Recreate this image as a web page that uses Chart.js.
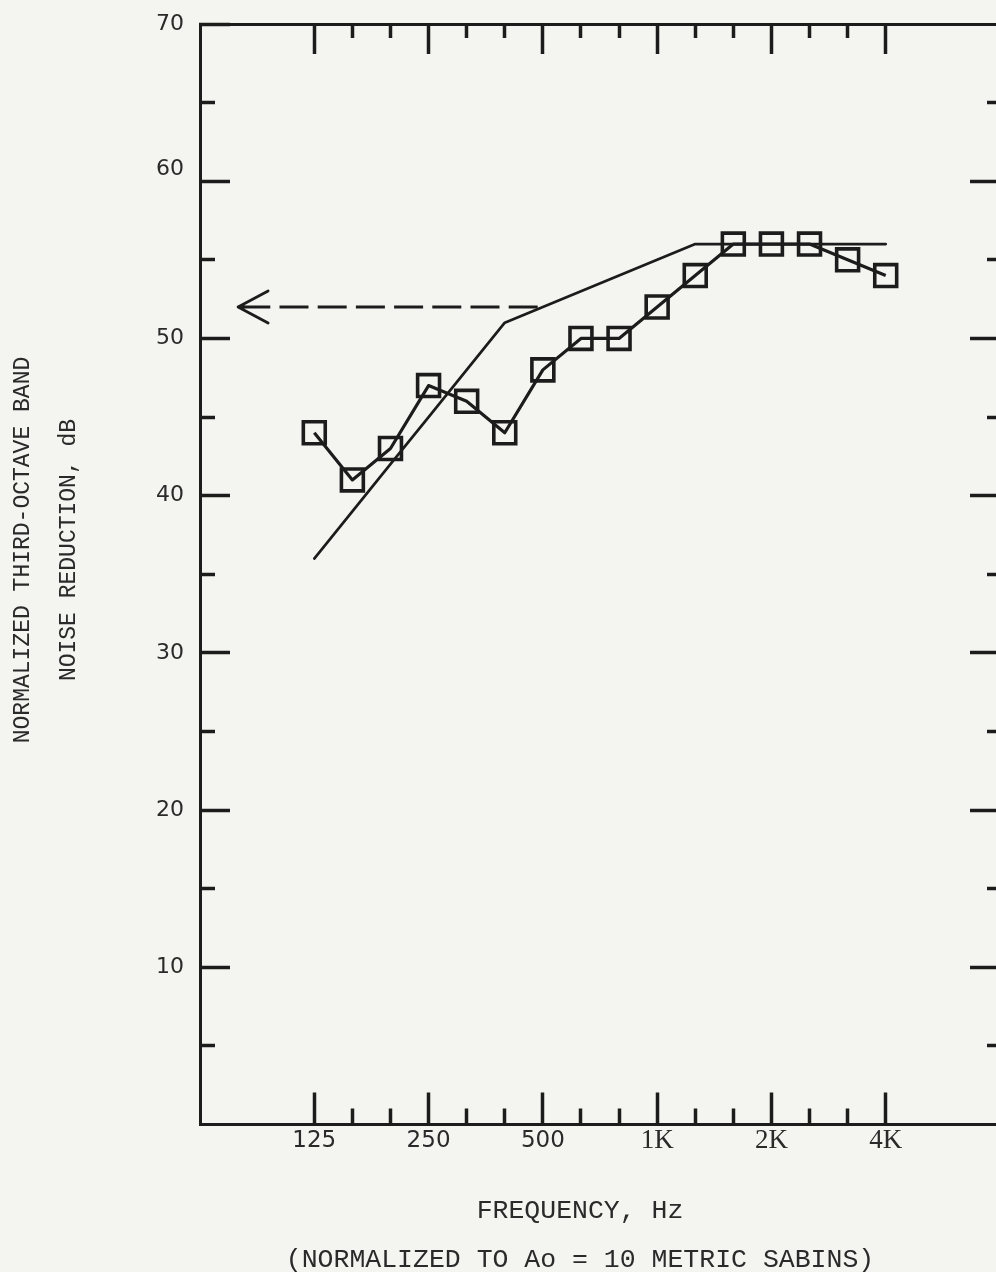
<!DOCTYPE html>
<html>
<head>
<meta charset="utf-8">
<title>Normalized third-octave band noise reduction</title>
<script src="https://cdn.jsdelivr.net/npm/chart.js@4/dist/chart.umd.min.js"></script>
<style>
  html, body { margin: 0; padding: 0; width: 996px; height: 1272px; overflow: hidden; background: #f4f4f0; }
  #wrap { position: relative; width: 996px; height: 1272px; overflow: hidden; }
  /* the canvas is a little larger than the page so the frame's right edge and
     the centred titles fall where the printed figure has them */
  #chart { position: absolute; left: 0; top: -184px; }
</style>
</head>
<body>
<div id="wrap"><canvas id="chart" width="1160" height="1468"></canvas></div>
<script>
// Third-octave band centre frequencies (x position = band number)
const bandLabels = ['125', '160', '200', '250', '315', '400', '500', '630', '800',
                    '1K', '1.25K', '1.6K', '2K', '2.5K', '3.15K', '4K'];
// Octave labels printed under every third band
const octaveLabels = ['125', '250', '500', '1K', '2K', '4K'];
// Measured normalized noise reduction, dB
const measuredNR = [44, 41, 43, 47, 46, 44, 48, 50, 50, 52, 54, 56, 56, 56, 55, 54];
// Fitted reference contour, dB
const contourNR = [36, 39, 42, 45, 48, 51, 52, 53, 54, 55, 56, 56, 56, 56, 56, 56];
// Rating read at 500 Hz and carried to the left by the arrow
const ratingValue = 52;
const ratingBand = bandLabels.indexOf('500');
const arrowTipBand = -2;               // arrow point sits at the 80 Hz band
// Frequency axis extent in band numbers (63 Hz .. 8 kHz)
const bandMin = -3, bandMax = 18;
// dB axis ticks and labels
const dbTicks = [5, 10, 15, 20, 25, 30, 35, 40, 45, 50, 55, 60, 65, 70];
const dbLabels = ['10', '20', '30', '40', '50', '60', '70'];

const INK = '#1c1c1c';
const TEXT = '#2a2a2a';
const MONO = '"Liberation Mono", "DejaVu Sans Mono", monospace';

const bandIdx = bandLabels.map((_, i) => i);
const isOctave = v => v % 3 === 0;
const isDecade = v => v % 10 === 0;

// open "<" head at the start of the rating arrow
const arrowHead = {
  id: 'arrowHead',
  afterDatasetsDraw(chart) {
    const tip = chart.getDatasetMeta(2).data[0];
    if (!tip) return;
    const ctx = chart.ctx;
    ctx.save();
    ctx.strokeStyle = INK;
    ctx.lineWidth = 2.8;
    ctx.lineCap = 'round';
    ctx.lineJoin = 'round';
    ctx.setLineDash([]);
    ctx.beginPath();
    ctx.moveTo(tip.x + 30, tip.y - 16);
    ctx.lineTo(tip.x, tip.y);
    ctx.lineTo(tip.x + 30, tip.y + 16);
    ctx.moveTo(tip.x, tip.y);
    ctx.lineTo(tip.x + 6, tip.y);
    ctx.stroke();
    ctx.restore();
  }
};

// inward tick marks: long at labelled values, short elsewhere
function tickDash(fromBorder, shortLen, isMajor) {
  return c => {
    if (!c.tick || isMajor(c.tick.value)) return [];
    return fromBorder ? [shortLen, 300] : [0, 31.5 - shortLen, 300, 0];
  };
}

new Chart(document.getElementById('chart'), {
  type: 'line',
  data: {
    datasets: [
      {
        label: 'Measured',
        data: bandIdx.map(i => ({ x: i, y: measuredNR[i] })),
        borderColor: INK,
        borderWidth: 3.2,
        borderJoinStyle: 'round',
        pointStyle: 'rect',
        pointRadius: 15.5,
        pointBorderWidth: 3.6,
        pointBorderColor: INK,
        pointBackgroundColor: 'rgba(0,0,0,0)',
        tension: 0
      },
      {
        label: 'Contour',
        data: bandIdx.map(i => ({ x: i, y: contourNR[i] })),
        borderColor: INK,
        borderWidth: 2.7,
        borderJoinStyle: 'round',
        borderCapStyle: 'round',
        pointRadius: 0,
        tension: 0
      },
      {
        label: 'Rating',
        data: [{ x: arrowTipBand, y: ratingValue }, { x: ratingBand, y: ratingValue }],
        borderColor: INK,
        borderWidth: 2.8,
        borderDash: [29, 9.2],
        borderDashOffset: 35,
        pointRadius: 0,
        tension: 0
      }
    ]
  },
  options: {
    responsive: false,
    animation: false,
    events: [],
    devicePixelRatio: 1,
    layout: { padding: 0, autoPadding: false },
    plugins: {
      legend: { display: false },
      tooltip: { enabled: false },
      title: {
        display: true,
        position: 'left',
        text: ['NORMALIZED THIRD-OCTAVE BAND', 'NOISE REDUCTION, dB'],
        color: TEXT,
        font: { family: MONO, size: 23, weight: 'normal', lineHeight: 2 },
        padding: 0
      },
      subtitle: {
        display: true,
        position: 'bottom',
        text: ['FREQUENCY, Hz', '(NORMALIZED TO Ao = 10 METRIC SABINS)'],
        color: TEXT,
        font: { family: MONO, size: 26.5, weight: 'normal', lineHeight: 49 / 26.5 },
        padding: 0
      }
    },
    scales: {
      x: {
        type: 'linear',
        position: 'bottom',
        min: bandMin,
        max: bandMax,
        afterBuildTicks: s => { s.ticks = bandIdx.map(v => ({ value: v })); },
        afterFit: s => { s.height = 61.5; },
        grid: {
          drawOnChartArea: false,
          drawTicks: true,
          tickLength: -32,
          tickWidth: 3.5,
          tickColor: INK,
          tickBorderDash: tickDash(true, 17.5, isOctave)
        },
        border: { display: true, width: 3, color: INK },
        ticks: {
          autoSkip: false,
          maxRotation: 0,
          padding: 34,
          color: TEXT,
          font: c => (c.tick && c.tick.value >= 9)
            ? { family: '"Liberation Serif", serif', size: 27, lineHeight: 1.1 }
            : { family: '"DejaVu Sans", sans-serif', size: 23, lineHeight: 1.25 },
          callback: v => isOctave(v) ? octaveLabels[v / 3] : ''
        }
      },
      xTop: {
        type: 'linear',
        position: 'top',
        min: bandMin,
        max: bandMax,
        afterBuildTicks: s => { s.ticks = bandIdx.map(v => ({ value: v })); },
        afterFit: s => { s.height = 208; },
        grid: {
          drawOnChartArea: false,
          drawTicks: true,
          tickLength: -30,
          tickWidth: 3.5,
          tickColor: INK,
          tickBorderDash: tickDash(false, 15.5, isOctave)
        },
        border: { display: true, width: 3, color: INK },
        ticks: { display: false, autoSkip: false }
      },
      y: {
        type: 'linear',
        position: 'left',
        min: 0,
        max: 70,
        afterBuildTicks: s => { s.ticks = dbTicks.map(v => ({ value: v })); },
        afterFit: s => { s.width = 108; },
        grid: {
          drawOnChartArea: false,
          drawTicks: true,
          tickLength: -30,
          tickWidth: 3.5,
          tickColor: INK,
          tickBorderDash: tickDash(false, 16.5, isDecade)
        },
        border: { display: true, width: 3, color: INK },
        ticks: {
          autoSkip: false,
          padding: 46,
          color: TEXT,
          font: { family: '"DejaVu Sans", sans-serif', size: 22, lineHeight: 1.1 },
          callback: v => {
            if (!isDecade(v)) return '';
            const label = dbLabels[v / 10 - 1];
            return v === 60 ? [label, ''] : label;
          }
        }
      },
      yRight: {
        type: 'linear',
        position: 'right',
        min: 0,
        max: 70,
        afterBuildTicks: s => { s.ticks = dbTicks.filter(v => v < 70).map(v => ({ value: v })); },
        afterFit: s => { s.width = 160; },
        grid: {
          drawOnChartArea: false,
          drawTicks: true,
          tickLength: -30,
          tickWidth: 3.5,
          tickColor: INK,
          tickBorderDash: tickDash(true, 15, isDecade)
        },
        border: { display: true, width: 3, color: INK },
        ticks: { display: false, autoSkip: false }
      }
    }
  },
  plugins: [arrowHead]
});
</script>
</body>
</html>
